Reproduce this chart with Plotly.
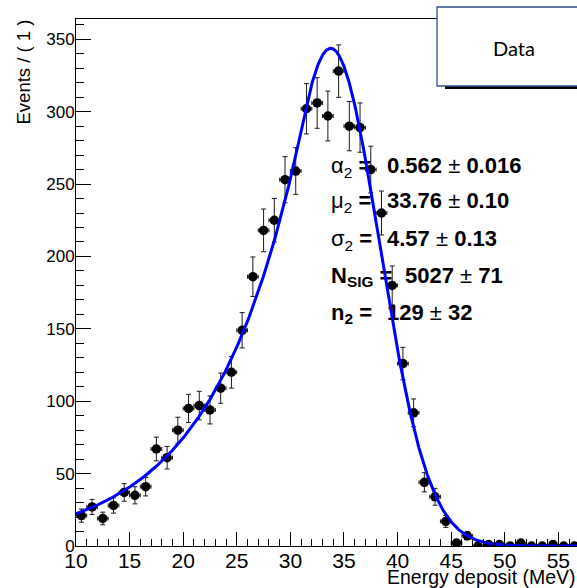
import numpy as np
import plotly.graph_objects as go

# ---------------- data ----------------
bin_centers = [10.5, 11.5, 12.5, 13.5, 14.5, 15.5, 16.5, 17.5, 18.5, 19.5,
               20.5, 21.5, 22.5, 23.5, 24.5, 25.5, 26.5, 27.5, 28.5, 29.5,
               30.5, 31.5, 32.5, 33.5, 34.5, 35.5, 36.5, 37.5, 38.5, 39.5,
               40.5, 41.5, 42.5, 43.5, 44.5, 45.5, 46.5, 47.5, 48.5, 49.5,
               50.5, 51.5, 52.5, 53.5, 54.5, 55.5, 56.5]
counts = [21, 27, 19, 28, 37, 35, 41, 67, 61, 80,
          95, 97, 94, 109, 120, 149, 186, 218, 225, 253,
          259, 302, 306, 297, 328, 290, 289, 260, 230, 180,
          126, 92, 44, 34, 17, 2, 7, 0, 1, 1,
          0, 2, 0, 0, 1, 0, 0]
bin_width = 1.0

# fit results shown on the chart (Crystal Ball)
alpha2, alpha2_err = 0.562, 0.016
mu2, mu2_err = 33.76, 0.10
sigma2, sigma2_err = 4.57, 0.13
n_sig, n_sig_err = 5027, 71
n2, n2_err = 129, 32
fit_range = [10.0, 60.0]

param_labels = ["α<sub>2</sub> <b>=</b>", "μ<sub>2</sub> <b>=</b>", "σ<sub>2</sub> <b>=</b>",
                "<b>N<sub>SIG</sub> =</b>", "<b>n<sub>2</sub> =</b>"]
param_values = [f"<b>{alpha2:.3f}</b> ± <b>{alpha2_err:.3f}</b>",
                 f"<b>{mu2:.2f}</b> ± <b>{mu2_err:.2f}</b>",
                 f"<b>{sigma2:.2f}</b> ± <b>{sigma2_err:.2f}</b>",
                 f"<b>{n_sig}</b> ± <b>{n_sig_err}</b>",
                 f"<b>{n2}</b> ± <b>{n2_err}</b>"]

x_title = "Energy deposit (MeV)"
y_title = "Events / ( 1 )"
legend_text = "Data"

# ---------------- layout geometry ----------------
W, H = 577, 588
ML, MR, MT, MB = 76, 0, 19, 42
x_range = [10.0, 56.74]
y_range = [0.0, 364.0]
PW, PH = W - ML - MR, H - MT - MB


def px_x(px):
    return x_range[0] + (px - ML) / PW * (x_range[1] - x_range[0])


def px_y(py):
    return y_range[0] + (H - MB - py) / PH * (y_range[1] - y_range[0])


def paper_x(px):
    return (px - ML) / PW


def paper_y(py):
    return (H - MB - py) / PH


# ---------------- model curve ----------------
def crystal_ball(x, mu, sigma, alpha, n):
    t = (x - mu) / sigma
    out = np.empty_like(t)
    core = t > -abs(alpha)
    out[core] = np.exp(-0.5 * t[core] ** 2)
    a = abs(alpha)
    logA = n * np.log(n / a) - 0.5 * a * a
    B = n / a - a
    out[~core] = np.exp(logA - n * np.log(B - t[~core]))
    return out


xc = np.linspace(fit_range[0], fit_range[1], 2001)
shape = crystal_ball(xc, mu2, sigma2, alpha2, n2)
norm = n_sig * bin_width / np.trapezoid(shape, xc)
yc = shape * norm

cnt = np.array(counts, dtype=float)
err = np.sqrt(cnt)

fig = go.Figure()

# parameter box text (drawn beneath the data, as in the original)
label_px = [331] * 5
value_px = [387, 387, 387, 405, 387]
row_py = [167.5, 202.5, 240.5, 277, 314]
fig.add_trace(go.Scatter(
    x=[px_x(p) for p in label_px], y=[px_y(p) for p in row_py],
    mode="text", text=param_labels, textposition="middle right",
    textfont=dict(family="Liberation Sans", size=22, color="black"),
    hoverinfo="skip", showlegend=False))
fig.add_trace(go.Scatter(
    x=[px_x(p) for p in value_px], y=[px_y(p) for p in row_py],
    mode="text", text=param_values, textposition="middle right",
    textfont=dict(family="Liberation Sans", size=22, color="black"),
    hoverinfo="skip", showlegend=False))

# data points
fig.add_trace(go.Scatter(
    x=bin_centers, y=counts, mode="markers",
    marker=dict(color="black", size=9.5, symbol="circle"),
    error_y=dict(type="data", array=err, color="#1a1a1a", thickness=1, width=2.5),
    error_x=dict(type="constant", value=bin_width / 2, color="#1a1a1a", thickness=1, width=2),
    showlegend=False, hoverinfo="skip"))

# fit curve
fig.add_trace(go.Scatter(
    x=xc, y=yc, mode="lines", line=dict(color="#0000ff", width=3),
    showlegend=False, hoverinfo="skip"))

axis_font = "Liberation Sans"
fig.update_xaxes(
    range=x_range, showgrid=False, zeroline=False,
    showline=True, linecolor="black", linewidth=1, mirror=True,
    ticks="inside", ticklen=14, tickcolor="black", tickwidth=1,
    tick0=10, dtick=5, ticklabelstandoff=-4,
    minor=dict(ticks="inside", ticklen=7, dtick=1, tickcolor="black", tickwidth=1),
    tickfont=dict(family=axis_font, size=21, color="black"))
fig.update_yaxes(
    range=y_range, showgrid=False, zeroline=False,
    showline=True, linecolor="black", linewidth=1, mirror=False,
    ticks="inside", ticklen=15, tickcolor="black", tickwidth=1,
    tick0=0, dtick=50, ticklabelstandoff=-3,
    minor=dict(ticks="inside", ticklen=8, dtick=10, tickcolor="black", tickwidth=1),
    tickfont=dict(family=axis_font, size=17, color="black"))

annotations = [
    dict(text=y_title, xref="paper", yref="paper", x=paper_x(23), y=paper_y(18),
         xanchor="center", yanchor="top", textangle=-90, showarrow=False,
         font=dict(family=axis_font, size=18.5, color="black")),
    dict(text=x_title, xref="paper", yref="paper", x=paper_x(578), y=paper_y(577),
         xanchor="right", yanchor="middle", showarrow=False,
         font=dict(family=axis_font, size=19.5, color="black")),
    dict(text=legend_text, xref="paper", yref="paper", x=paper_x(514), y=paper_y(48),
         xanchor="center", yanchor="middle", showarrow=False,
         font=dict(family="Lato", size=20, color="black")),
]

shapes = [
    dict(type="rect", xref="paper", yref="paper", layer="above",
         x0=paper_x(445), x1=paper_x(600), y0=paper_y(89), y1=paper_y(84),
         fillcolor="black", line=dict(width=0)),
    dict(type="rect", xref="paper", yref="paper", layer="above",
         x0=paper_x(437), x1=paper_x(600), y0=paper_y(86), y1=paper_y(7),
         fillcolor="white", line=dict(color="#2F528F", width=1.3)),
]

fig.update_layout(
    width=W, height=H,
    margin=dict(l=ML, r=MR, t=MT, b=MB, pad=0),
    paper_bgcolor="white", plot_bgcolor="white",
    showlegend=False, hovermode=False,
    annotations=annotations, shapes=shapes)

fig.write_html(
    "out.html",
    config={"displayModeBar": False},
    post_script="document.body.style.margin='0';document.body.style.overflow='hidden';")
